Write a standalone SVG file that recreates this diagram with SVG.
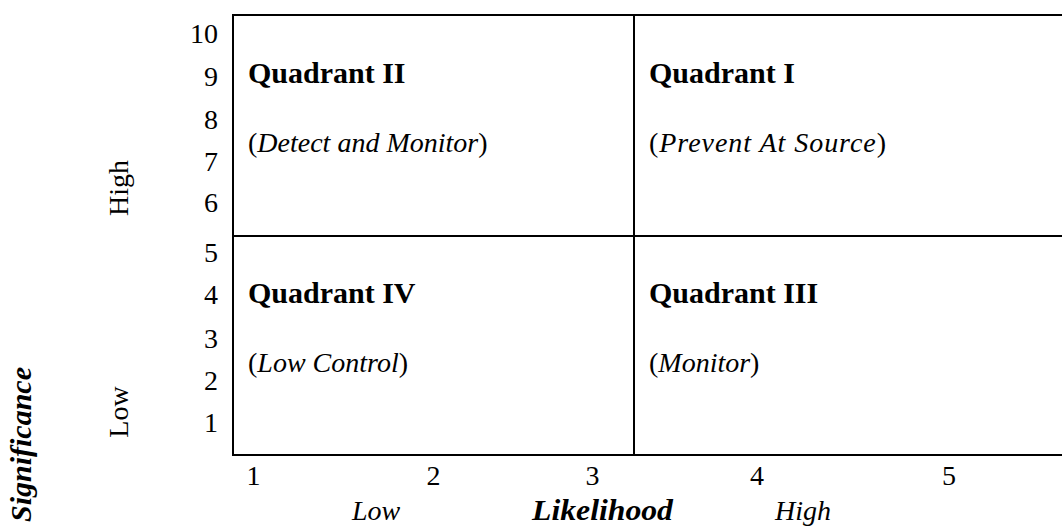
<svg xmlns="http://www.w3.org/2000/svg" width="1062" height="526" viewBox="0 0 1062 526">
<style>
text{font-family:"Liberation Serif","Times New Roman",serif;fill:#000;font-size:28px}
.b{font-weight:bold;font-size:30px}
.i{font-style:italic}
.bi{font-weight:bold;font-style:italic;font-size:30px}
.ax{text-anchor:end}
.xm{text-anchor:middle}
.grid{stroke:#000;stroke-width:2;fill:none}
</style>
<rect width="1062" height="526" fill="#fff"/>
<g id="connectors">
<path class="grid" d="M1063 15 H233 V455 H1063"/>
<path class="grid" d="M233 236 H1063"/>
<path class="grid" d="M634 15 V455"/>
</g>
<g id="y-axis">
<text class="ax" x="218" y="43">10</text>
<text class="ax" x="218" y="86">9</text>
<text class="ax" x="218" y="129">8</text>
<text class="ax" x="218" y="171">7</text>
<text class="ax" x="218" y="212">6</text>
<text class="ax" x="218" y="262">5</text>
<text class="ax" x="218" y="304">4</text>
<text class="ax" x="218" y="348">3</text>
<text class="ax" x="218" y="390">2</text>
<text class="ax" x="218" y="432">1</text>
<text class="xm" font-size="29" transform="translate(128 188) rotate(-90)">High</text>
<text class="xm" font-size="29" transform="translate(128 412) rotate(-90)">Low</text>
<text class="bi" text-anchor="end" transform="translate(31 367) rotate(-90)">Significance</text>
</g>
<g id="x-axis">
<text class="xm" x="253.5" y="485">1</text>
<text class="xm" x="433.5" y="485">2</text>
<text class="xm" x="592.5" y="485">3</text>
<text class="xm" x="757" y="485">4</text>
<text class="xm" x="949" y="485">5</text>
<text class="i" x="352" y="520">Low</text>
<text class="bi" x="532" y="520" textLength="141" lengthAdjust="spacingAndGlyphs">Likelihood</text>
<text class="i" x="775" y="520">High</text>
</g>
<g id="quadrant-2">
<text class="b" x="248" y="83">Quadrant II</text>
<text x="248" y="152">(<tspan class="i">Detect and Monitor</tspan>)</text>
</g>
<g id="quadrant-1">
<text class="b" x="649" y="83">Quadrant I</text>
<text x="649" y="152" textLength="237">(<tspan class="i">Prevent At Source</tspan>)</text>
</g>
<g id="quadrant-4">
<text class="b" x="248" y="303">Quadrant IV</text>
<text x="248" y="372">(<tspan class="i">Low Control</tspan>)</text>
</g>
<g id="quadrant-3">
<text class="b" x="649" y="303">Quadrant III</text>
<text x="649" y="372">(<tspan class="i">Monitor</tspan>)</text>
</g>
</svg>
